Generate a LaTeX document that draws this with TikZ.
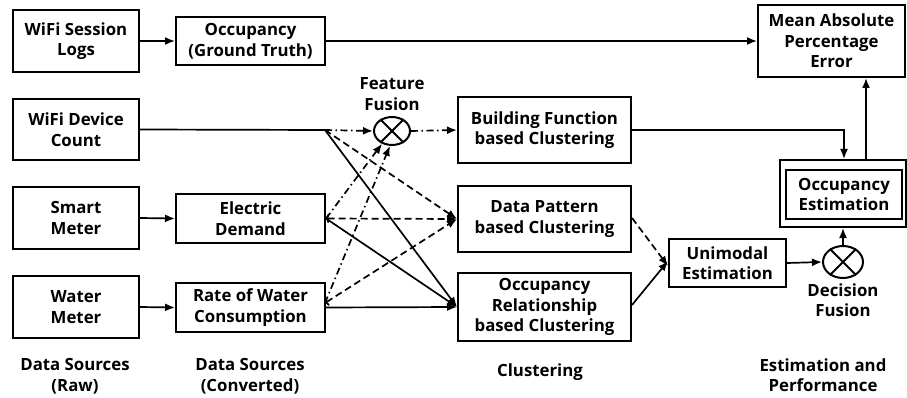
\documentclass[tikz,border=0pt]{standalone}
\usepackage{fontspec}
\setmainfont{Open Sans}
\usetikzlibrary{arrows.meta,shapes.geometric}
\begin{document}
\begin{tikzpicture}[x=1pt,y=-1pt,
  font=\fontsize{16.8}{20.5}\selectfont\bfseries,
  box/.style={draw,line width=2pt,align=center,inner sep=0pt},
  fus/.style={draw,line width=2pt,ellipse,inner sep=0pt},
  lbl/.style={align=center,inner sep=0pt},
  conn/.style={line width=1.7pt},
  arr/.style={conn,-{Latex[length=10pt,width=8pt]}},
  dsh/.style={dash pattern=on 7pt off 4pt},
  dd/.style={dash pattern=on 7pt off 3.5pt on 1.5pt off 3.5pt},
  openend/.style={{To[length=3pt,width=9pt]}-{Latex[length=10pt,width=8pt]}}
]
\useasboundingbox (0,0) rectangle (907,398);
% boxes
\node[box,minimum width=126pt,minimum height=62pt] (wsl) at (76,41) {WiFi Session\\Logs};
\node[box,minimum width=149pt,minimum height=48pt] (ogt) at (250.5,41) {Occupancy\\(Ground Truth)};
\node[box,minimum width=147pt,minimum height=72pt] (mape) at (831.5,41) {Mean Absolute\\Percentage\\Error};
\node[box,minimum width=126pt,minimum height=61pt] (wdc) at (76,129.5) {WiFi Device\\Count};
\node[box,minimum width=126pt,minimum height=62pt] (sm) at (76,218) {Smart\\Meter};
\node[box,minimum width=149pt,minimum height=49pt] (ed) at (250.5,218.5) {Electric\\Demand};
\node[box,minimum width=126pt,minimum height=62pt] (wm) at (76,307) {Water\\Meter};
\node[box,minimum width=149pt,minimum height=49pt] (rwc) at (250.5,307.5) {Rate of Water\\Consumption};
\node[box,minimum width=173pt,minimum height=66pt] (bfc) at (544.5,130) {Building Function\\based Clustering};
\node[box,minimum width=173pt,minimum height=66pt] (dpc) at (544.5,219) {Data Pattern\\based Clustering};
\node[box,minimum width=173pt,minimum height=68pt] (orc) at (544.5,307) {Occupancy\\Relationship\\based Clustering};
\node[box,minimum width=117pt,minimum height=48pt] (uni) at (727.5,263) {Unimodal\\Estimation};
\node[box,minimum width=116pt,minimum height=49pt] (oe) at (844,194.5) {Occupancy\\Estimation};
\node[draw,line width=2pt,minimum width=126pt,minimum height=67pt,inner sep=0pt] (oeo) at (843,193.5) {};
% fusion nodes
\node[fus,minimum width=36pt,minimum height=28pt] (ff) at (392,131) {};
\draw[line width=2pt] (ff.45) -- (ff.225) (ff.135) -- (ff.315);
\node[fus,minimum width=40pt,minimum height=32pt] (df) at (843,262) {};
\draw[line width=2pt] (df.45) -- (df.225) (df.135) -- (df.315);
% labels
\node[lbl] (ffl) at (392,94) {Feature\\Fusion};
\node[lbl] (dfl) at (843,300) {Decision\\Fusion};
\node[lbl] (l1) at (75,376) {Data Sources\\(Raw)};
\node[lbl] (l2) at (250,376) {Data Sources\\(Converted)};
\node[lbl] (l3) at (540,372) {Clustering};
\node[lbl] (l4) at (823,375) {Estimation and\\Performance};
% connectors top
\draw[arr] (wsl.east) -- (ogt.west);
\draw[arr] (ogt.east) -- (mape.west);
\draw[arr] (sm.east) -- (ed.west);
\draw[arr] (wm.east) -- (rwc.west);
% wifi device count
\coordinate (j) at (325,130);
\draw[conn] (wdc.east) -- (j);
\draw[arr,dd] (j) -- (ff.west);
\draw[arr,dsh] (j) -- (dpc.west);
\draw[arr] (j) -- (orc.west);
% electric demand
\draw[arr,dd] (ed.east) -- (ff.232);
\draw[conn,dsh,openend] (ed.east) -- (dpc.west);
\draw[arr] (ed.east) -- (orc.west);
% water
\coordinate (rj) at (325,303);
\draw[arr,dd] (rj) -- (ff.262);
\draw[conn,dsh,openend] (rj) -- (dpc.west);
\draw[arr] (rwc.east) -- (orc.west);
% feature fusion out
\draw[arr,dd] (ff.east) -- (bfc.west);
% clustering to unimodal
\draw[arr,dsh] (dpc.east |- 0,218) -- ([yshift=-3pt]uni.west);
\draw[arr] (orc.east |- 0,305) -- ([yshift=2pt]uni.west);
% right side
\draw[arr] (uni.east) -- (df.west);
\draw[arr] (df.north) -- (oeo.south -| df.north);
\draw[arr] (bfc.east) -| (oeo.north -| 844,0);
\draw[arr] (oeo.north -| 866,0) -- (mape.south -| 866,0);
\end{tikzpicture}
\end{document}
